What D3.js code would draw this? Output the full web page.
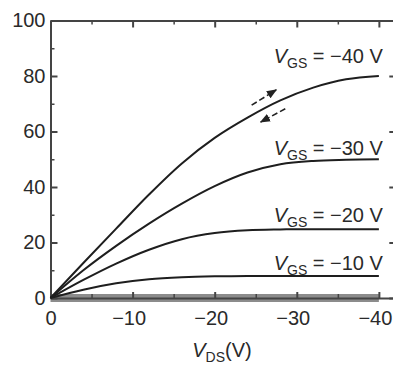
<!DOCTYPE html>
<html>
<head>
<meta charset="utf-8">
<script src="https://cdn.jsdelivr.net/npm/d3@7"></script>
<style>
  body { margin: 0; background: #fff; }
  svg { display: block; font-family: "Liberation Sans", Arial, sans-serif; }
</style>
</head>
<body>
<div id="chart"></div>
<script>
// drain voltage samples (V)
const vds = [0, -4, -8, -12, -16, -20, -24, -28, -32, -36, -40];
// drain current per gate voltage
const id40 = [0, 12.6, 25, 37.3, 48.5, 57.7, 65, 71.2, 75.8, 78.8, 80];
const id30 = [0, 10, 18.8, 26.8, 34, 40.3, 45.2, 48.2, 49.4, 49.8, 50];
const id20 = [0, 6.5, 12.4, 17.4, 21.2, 23.4, 24.4, 24.7, 24.8, 24.8, 24.8];
const id10 = [0, 3, 5.3, 6.8, 7.5, 7.8, 7.9, 7.9, 7.9, 7.9, 7.9];
const id0 = [0, 0, 0, 0, 0, 0, 0, 0, 0, 0, 0];
const vgsLabels = ["\u221240", "\u221230", "\u221220", "\u221210"];
const xTicks = [0, -10, -20, -30, -40];
const xMinor = [-5, -15, -25, -35];
const yTicks = [0, 20, 40, 60, 80, 100];
const yMinor = [10, 30, 50, 70, 90];
// sweep direction arrows [from, to] in (Vds, Id)
const sweepUp = [[-24.5, 69.5], [-27.5, 75]];
const sweepDown = [[-28.6, 68.2], [-25.6, 63.4]];

const W = 393, H = 366;
const svg = d3.select("#chart").append("svg").attr("width", W).attr("height", H);

const x = d3.scaleLinear().domain([0, -42]).range([50.5, 395.3]);
const y = d3.scaleLinear().domain([0, 100]).range([298, 20.5]);
const axisColor = "#444";

svg.append("defs").append("marker")
  .attr("id", "arr")
  .attr("viewBox", "0 0 10 10")
  .attr("refX", 9).attr("refY", 5)
  .attr("markerWidth", 6.5).attr("markerHeight", 6.5)
  .attr("orient", "auto")
  .append("path").attr("d", "M0,1L10,5L0,9Z").attr("fill", "#222");

// zero-gate-voltage trace lying along the axis (thick gray band)
const line = d3.line().x((d, i) => x(vds[i])).y(d => y(d)).curve(d3.curveCatmullRom.alpha(0.5));
svg.append("path").datum(id0)
  .attr("d", line).attr("fill", "none")
  .attr("stroke", "#8c8c8c").attr("stroke-width", 8);

// frame: top and right
svg.append("g").attr("transform", `translate(0,${y(100)})`)
  .call(d3.axisTop(x).tickValues(xTicks).tickSize(-7).tickSizeOuter(0).tickFormat(""))
  .call(g => g.selectAll("line,path").attr("stroke", axisColor).attr("stroke-width", 2));
svg.append("g").attr("transform", `translate(0,${y(100)})`)
  .call(d3.axisTop(x).tickValues(xMinor).tickSize(-4).tickFormat(""))
  .call(g => g.select(".domain").remove())
  .call(g => g.selectAll("line").attr("stroke", axisColor).attr("stroke-width", 1.5));
svg.append("g").attr("transform", `translate(${x(-42)},0)`)
  .call(d3.axisRight(y).tickValues(yTicks).tickSize(-6).tickSizeOuter(0).tickFormat(""))
  .call(g => g.selectAll("line,path").attr("stroke", axisColor).attr("stroke-width", 2));

// bottom axis
const xa = svg.append("g").attr("transform", `translate(0,${y(0)})`)
  .call(d3.axisBottom(x).tickValues(xTicks).tickSize(-6).tickSizeOuter(0).tickPadding(13)
    .tickFormat(d => d === 0 ? "0" : "\u2212" + Math.abs(d)));
xa.selectAll("line,path").attr("stroke", axisColor).attr("stroke-width", 2);
xa.selectAll("text").attr("font-size", 20).attr("fill", "#2a2a2a")
  .attr("font-family", "Liberation Sans, Arial, sans-serif")
  .attr("dx", d => d === 0 ? 0 : -4);
svg.append("g").attr("transform", `translate(0,${y(0)})`)
  .call(d3.axisBottom(x).tickValues(xMinor).tickSize(-4).tickFormat(""))
  .call(g => g.select(".domain").remove())
  .call(g => g.selectAll("line").attr("stroke", axisColor).attr("stroke-width", 1.5));

// left axis
const ya = svg.append("g").attr("transform", `translate(${x(0)},0)`)
  .call(d3.axisLeft(y).tickValues(yTicks).tickSize(-7).tickSizeOuter(0).tickPadding(5));
ya.selectAll("line,path").attr("stroke", axisColor).attr("stroke-width", 2);
ya.selectAll("text").attr("font-size", 20).attr("fill", "#2a2a2a")
  .attr("font-family", "Liberation Sans, Arial, sans-serif");
svg.append("g").attr("transform", `translate(${x(0)},0)`)
  .call(d3.axisLeft(y).tickValues(yMinor).tickSize(-4).tickFormat(""))
  .call(g => g.select(".domain").remove())
  .call(g => g.selectAll("line").attr("stroke", axisColor).attr("stroke-width", 1.5));

// output curves
const series = [id40, id30, id20, id10];
svg.append("g").selectAll("path").data(series).join("path")
  .attr("d", line).attr("fill", "none")
  .attr("stroke", "#1e1e1e").attr("stroke-width", 2);

// curve labels
const labelLift = [13, 4, 7, 6];
series.forEach((s, i) => {
  const t = svg.append("text")
    .attr("x", x(-40) + 4).attr("y", y(s[s.length - 1]) - labelLift[i])
    .attr("text-anchor", "end").attr("font-size", 20).attr("fill", "#2a2a2a");
  t.append("tspan").attr("font-style", "italic").text("V");
  t.append("tspan").attr("font-size", 14).attr("dy", 5).text("GS");
  t.append("tspan").attr("dy", -5).text(" = " + vgsLabels[i] + " V");
});

// sweep arrows
[sweepUp, sweepDown].forEach(a => {
  svg.append("line")
    .attr("x1", x(a[0][0])).attr("y1", y(a[0][1]))
    .attr("x2", x(a[1][0])).attr("y2", y(a[1][1]))
    .attr("stroke", "#222").attr("stroke-width", 1.6)
    .attr("stroke-dasharray", "6,3")
    .attr("marker-end", "url(#arr)");
});

// x axis title
const xt = svg.append("text").attr("x", 222).attr("y", 357)
  .attr("text-anchor", "middle").attr("font-size", 20).attr("fill", "#2a2a2a");
xt.append("tspan").attr("font-style", "italic").text("V");
xt.append("tspan").attr("font-size", 14).attr("dy", 5).text("DS");
xt.append("tspan").attr("dy", -5).text("(V)");
</script>
</body>
</html>
